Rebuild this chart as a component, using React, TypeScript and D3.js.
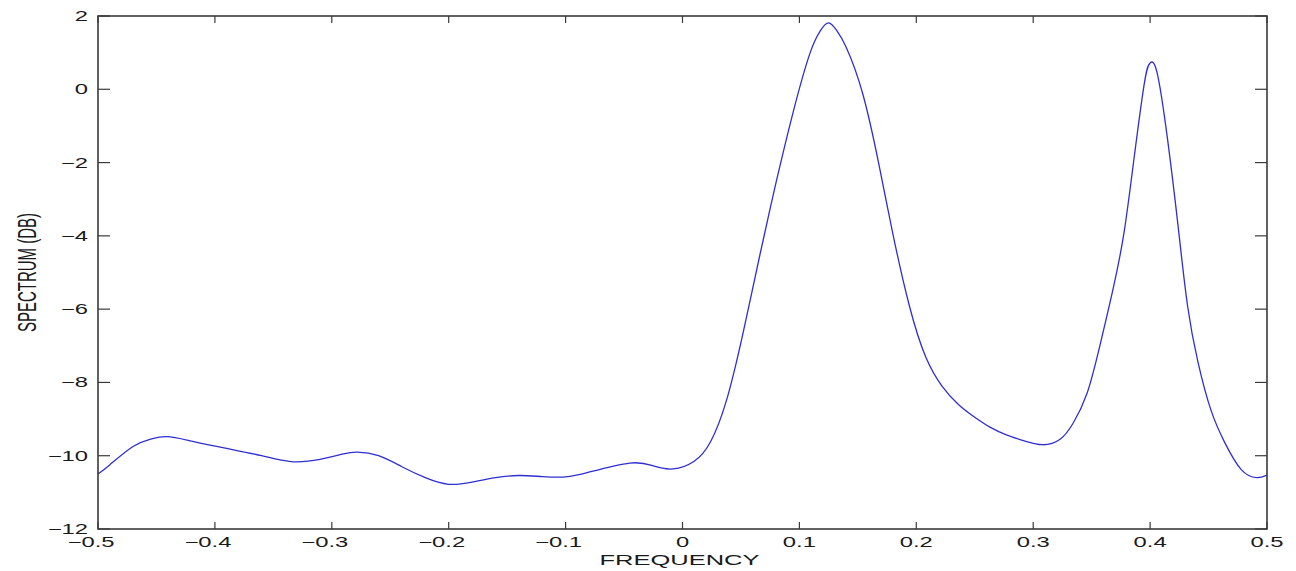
import React, { useEffect, useRef } from "react";
import * as d3 from "d3";

// values
const frequency = [
  -0.5, -0.49, -0.47, -0.455, -0.441, -0.42, -0.39, -0.36, -0.335, -0.31, -0.29, -0.278, -0.26,
  -0.24, -0.22, -0.2, -0.18, -0.16, -0.14, -0.12, -0.1, -0.08, -0.045, -0.025, -0.008, 0.01,
  0.024, 0.038, 0.052, 0.066, 0.08, 0.095, 0.109, 0.118, 0.125, 0.132, 0.14, 0.154, 0.168, 0.18,
  0.194, 0.208, 0.222, 0.236, 0.25, 0.263, 0.277, 0.291, 0.308, 0.323, 0.334, 0.346, 0.357,
  0.369, 0.378, 0.386, 0.395, 0.4, 0.406, 0.415, 0.424, 0.432, 0.441, 0.452, 0.464, 0.478,
  0.491, 0.5,
];
const spectrum = [
  -10.5, -10.25, -9.75, -9.55, -9.48, -9.6, -9.8, -10.0, -10.16, -10.1, -9.95, -9.9, -10.0,
  -10.3, -10.6, -10.78, -10.72, -10.6, -10.54, -10.57, -10.58, -10.45, -10.2, -10.28, -10.36,
  -10.15, -9.62, -8.45, -6.62, -4.55, -2.55, -0.58, 0.98, 1.6, 1.81, 1.6, 1.15, -0.1,
  -2.05, -3.95, -5.9, -7.3, -8.1, -8.6, -8.95, -9.22, -9.43, -9.58, -9.7, -9.55, -9.12, -8.3,
  -7.0, -5.35, -3.85, -1.95, 0.15, 0.72, 0.45, -1.38, -3.75, -5.9, -7.45, -8.75, -9.65, -10.38,
  -10.6, -10.53,
];
const xTicks = [-0.5, -0.4, -0.3, -0.2, -0.1, 0, 0.1, 0.2, 0.3, 0.4, 0.5];
const yTicks = [-12, -10, -8, -6, -4, -2, 0, 2];

const W = 1296;
const H = 571;
const margin = { left: 98, right: 29, top: 16, bottom: 42 };
const stretch = 1.7; // the original figure is stretched horizontally
const axisColor = "#3a3a3a";
const font = "'Liberation Sans', Arial, Helvetica, sans-serif";

const fmt = (v: number) => (v < 0 ? "\u2212" + d3.format("")(-v) : d3.format("")(v));

const App = () => {
  const svgRef = useRef<SVGSVGElement>(null);

  useEffect(() => {
    const svg = d3.select(svgRef.current);
    svg.selectAll("*").remove();

    const x0 = margin.left;
    const x1 = W - margin.right;
    const y0 = margin.top;
    const y1 = H - margin.bottom;

    const xScale = d3.scaleLinear().domain([-0.5, 0.5]).range([x0, x1]);
    const yScale = d3.scaleLinear().domain([-12, 2]).range([y1, y0]);

    const data = frequency.map((f, i) => ({ f, v: spectrum[i] }));

    // curve
    const line = d3
      .line<{ f: number; v: number }>()
      .x((d) => xScale(d.f))
      .y((d) => yScale(d.v))
      .curve(d3.curveNatural);

    svg
      .append("path")
      .datum(data)
      .attr("d", line)
      .attr("fill", "none")
      .attr("stroke", "#2f2fd0")
      .attr("stroke-width", 1.3);

    // box
    svg
      .append("rect")
      .attr("x", x0)
      .attr("y", y0)
      .attr("width", x1 - x0)
      .attr("height", y1 - y0)
      .attr("fill", "none")
      .attr("stroke", axisColor)
      .attr("stroke-width", 1.6);

    // ticks, inward on all four sides
    const tickG = svg.append("g").attr("stroke", axisColor).attr("stroke-width", 1.2);
    xTicks.forEach((t) => {
      const x = xScale(t);
      tickG.append("line").attr("x1", x).attr("x2", x).attr("y1", y1).attr("y2", y1 - 7);
      tickG.append("line").attr("x1", x).attr("x2", x).attr("y1", y0).attr("y2", y0 + 7);
    });
    yTicks.forEach((t) => {
      const y = yScale(t);
      tickG.append("line").attr("x1", x0).attr("x2", x0 + 12).attr("y1", y).attr("y2", y);
      tickG.append("line").attr("x1", x1).attr("x2", x1 - 12).attr("y1", y).attr("y2", y);
    });

    // tick labels
    const labelG = svg
      .append("g")
      .attr("font-family", font)
      .attr("font-size", 14)
      .attr("fill", "#1a1a1a");

    xTicks.forEach((t) => {
      labelG
        .append("text")
        .attr("transform", `translate(${xScale(t) + (t < 0 ? -7 : 0)},${y1 + 18}) scale(${stretch},1)`)
        .attr("text-anchor", "middle")
        .text(fmt(t));
    });
    yTicks.forEach((t) => {
      labelG
        .append("text")
        .attr("transform", `translate(${x0 - 10},${yScale(t)}) scale(${stretch},1)`)
        .attr("text-anchor", "end")
        .attr("dy", "0.36em")
        .text(fmt(t));
    });

    // axis titles
    svg
      .append("text")
      .attr("transform", `translate(${(x0 + x1) / 2 - 3},${H - 6}) scale(${stretch},1)`)
      .attr("text-anchor", "middle")
      .attr("font-family", font)
      .attr("font-size", 15)
      .attr("fill", "#1a1a1a")
      .text("FREQUENCY");

    svg
      .append("text")
      .attr("transform", `translate(27,${(y0 + y1) / 2}) scale(${stretch},1) rotate(-90)`)
      .attr("text-anchor", "middle")
      .attr("dy", "0.36em")
      .attr("font-family", font)
      .attr("font-size", 15)
      .attr("fill", "#1a1a1a")
      .text("SPECTRUM (DB)");
  }, []);

  return (
    <svg
      ref={svgRef}
      width={W}
      height={H}
      style={{ position: "absolute", left: 0, top: 0, background: "#fff", display: "block" }}
    ></svg>
  );
};

export default App;
